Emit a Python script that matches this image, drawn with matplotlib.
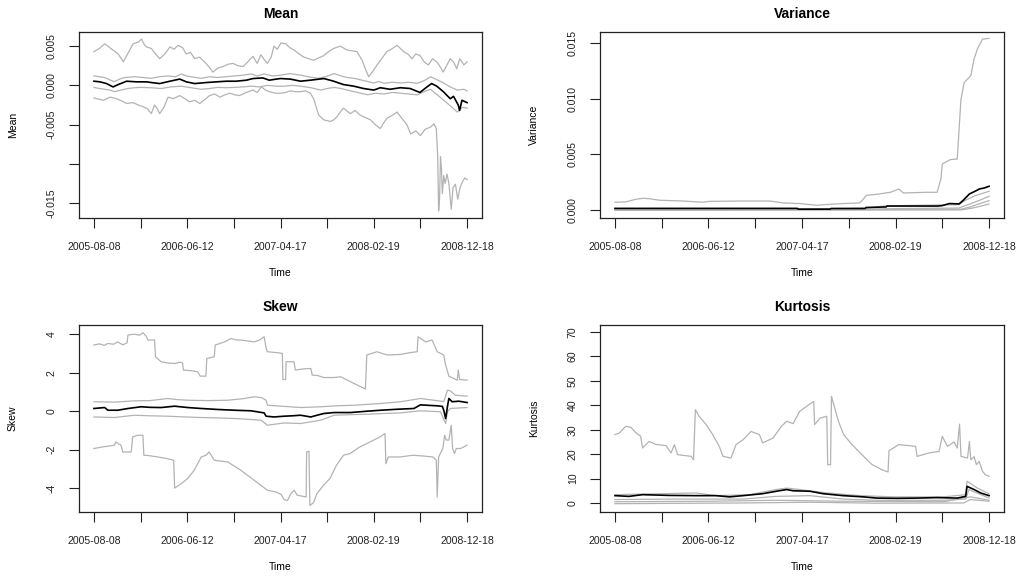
import numpy as np
import matplotlib
matplotlib.use("Agg")
import matplotlib.pyplot as plt

plt.rcParams['font.family'] = ['Liberation Sans', 'DejaVu Sans']

# x axis: trading-day index, labelled with dates every 200 days
tick_idx = [0, 100, 200, 300, 400, 500, 600, 700, 800]
tick_dates = ["2005-08-08", "", "2006-06-12", "", "2007-04-17", "", "2008-02-19", "", "2008-12-18"]

# ---- Mean panel (idx, value) ----
mean_max = [(0, 0.0043), (12, 0.0047), (23, 0.0053), (32, 0.0049), (41, 0.0045), (52, 0.0040), (63, 0.0030),
            (74, 0.0042), (84, 0.0053), (95, 0.0055), (102, 0.0059), (108, 0.0052), (113, 0.0049), (123, 0.0047),
            (132, 0.0040), (141, 0.0034), (152, 0.0040), (163, 0.0049), (172, 0.0046), (180, 0.0051),
            (190, 0.0048), (198, 0.0040), (207, 0.0042), (216, 0.0034), (226, 0.0036), (237, 0.0030),
            (246, 0.0024), (255, 0.0017), (266, 0.0022), (277, 0.0024), (288, 0.0027), (298, 0.0028),
            (309, 0.0025), (320, 0.0024), (330, 0.0030), (341, 0.0037), (350, 0.0028), (358, 0.0039),
            (366, 0.0032), (372, 0.0028), (380, 0.0036), (386, 0.0050), (393, 0.0046), (401, 0.0054),
            (411, 0.0053), (420, 0.0048), (429, 0.0045), (440, 0.0040), (450, 0.0036), (460, 0.0034),
            (471, 0.0032), (482, 0.0035), (493, 0.0038), (503, 0.0043), (514, 0.0047), (528, 0.0050),
            (543, 0.0045), (554, 0.0044), (564, 0.0043), (575, 0.0032), (582, 0.0021), (589, 0.0011),
            (598, 0.0018), (607, 0.0026), (617, 0.0034), (628, 0.0043), (640, 0.0047), (650, 0.0051),
            (664, 0.0043), (673, 0.0040), (682, 0.0034), (690, 0.0040), (699, 0.0038), (708, 0.0030),
            (717, 0.0026), (726, 0.0034), (735, 0.0030), (742, 0.0024), (749, 0.0017), (756, 0.0025),
            (764, 0.0034), (771, 0.0030), (778, 0.0021), (784, 0.0034), (789, 0.0030), (793, 0.0026),
            (800, 0.0030)]
mean_q75 = [(0, 0.0012), (12, 0.0011), (23, 0.0010), (34, 0.0007), (44, 0.00047), (55, 0.0008), (66, 0.0010),
            (87, 0.0011), (105, 0.0010), (123, 0.0009), (140, 0.0011), (158, 0.0012), (175, 0.0011),
            (187, 0.00145), (198, 0.0012), (208, 0.0011), (230, 0.0009), (248, 0.0011), (265, 0.0010),
            (283, 0.0011), (301, 0.0012), (320, 0.0013), (337, 0.00145), (350, 0.0012), (365, 0.00145),
            (383, 0.0012), (401, 0.0013), (420, 0.0015), (443, 0.0013), (460, 0.0011), (479, 0.0009),
            (497, 0.0011), (515, 0.0015), (530, 0.0012), (543, 0.0010), (558, 0.0009), (572, 0.0007),
            (586, 0.0005), (600, 0.0003), (611, 0.0005), (622, 0.00026), (640, 0.0004), (657, 0.0003),
            (675, 0.0004), (693, 0.00026), (708, 0.0006), (722, 0.0011), (736, 0.0007), (750, 0.0003),
            (764, -0.0002), (779, -0.0006), (793, -0.0005), (800, -0.0007)]
mean_mid = [(0, 0.00053), (13, 0.00045), (27, 0.00023), (41, -0.0002), (52, 0.0001), (70, 0.00053),
            (91, 0.00045), (113, 0.00045), (123, 0.00036), (141, 0.00023), (163, 0.00053), (184, 0.0008),
            (198, 0.00045), (216, 0.00023), (241, 0.00036), (263, 0.00045), (284, 0.00053), (305, 0.00053),
            (327, 0.00066), (341, 0.00087), (362, 0.00095), (376, 0.00066), (391, 0.0008), (400, 0.00087),
            (421, 0.0008), (443, 0.00053), (464, 0.00066), (493, 0.00087), (514, 0.00053), (535, 0.0001),
            (557, -0.0001), (578, -0.0004), (600, -0.0006), (614, -0.0003), (635, -0.0005), (657, -0.0003),
            (678, -0.0004), (692, -0.00074), (699, -0.0009), (714, -0.0002), (724, 0.00023), (735, -0.0001),
            (749, -0.0008), (764, -0.0017), (771, -0.0014), (781, -0.0025), (784, -0.0032), (789, -0.0019),
            (800, -0.0022)]
mean_q25 = [(0, -0.00026), (12, -0.0004), (23, -0.0005), (34, -0.0006), (44, -0.0008), (58, -0.0006),
            (73, -0.0004), (87, -0.0003), (101, -0.00026), (122, -0.0003), (144, -0.0004), (165, -0.0002),
            (187, -0.0001), (208, -0.0003), (230, -0.0005), (248, -0.0004), (265, -0.00026), (283, -0.0003),
            (301, -0.00026), (320, -0.0002), (337, -0.0001), (355, -0.0002), (372, 0.0), (390, -0.0001),
            (408, -0.0001), (425, 0.0), (443, -0.0001), (465, -0.0003), (486, -0.0006), (500, -0.0004),
            (515, -0.00026), (530, -0.0004), (543, -0.0006), (565, -0.0009), (586, -0.0012), (604, -0.0010),
            (622, -0.0011), (640, -0.0009), (657, -0.0010), (675, -0.0011), (693, -0.0012), (708, -0.0008),
            (722, -0.0005), (736, -0.0012), (750, -0.0019), (764, -0.0026), (779, -0.0034), (790, -0.0028),
            (800, -0.0029)]
mean_min = [(0, -0.0016), (20, -0.0019), (35, -0.0015), (48, -0.0017), (60, -0.0020), (70, -0.0023),
            (84, -0.0022), (95, -0.0025), (105, -0.0027), (115, -0.0030), (123, -0.0036), (130, -0.0025),
            (136, -0.0030), (141, -0.0036), (150, -0.0028), (159, -0.0015), (170, -0.0017), (184, -0.0013),
            (195, -0.0017), (205, -0.0021), (216, -0.0019), (227, -0.0023), (238, -0.0018), (248, -0.0013),
            (259, -0.0011), (270, -0.0015), (281, -0.0012), (291, -0.0010), (302, -0.0012), (312, -0.0013),
            (327, -0.0009), (341, -0.0006), (350, -0.0009), (359, -0.0002), (368, -0.0006), (376, -0.0008),
            (389, -0.0010), (401, -0.0010), (411, -0.0009), (421, -0.0007), (432, -0.0008), (443, -0.0008),
            (454, -0.0007), (464, -0.0010), (471, -0.0017), (482, -0.0038), (493, -0.0044), (507, -0.0046),
            (514, -0.0044), (521, -0.0040), (528, -0.0034), (535, -0.0029), (543, -0.0033), (550, -0.0036),
            (560, -0.0032), (571, -0.0038), (582, -0.0041), (593, -0.0044), (603, -0.0050), (614, -0.0055),
            (621, -0.0048), (628, -0.0042), (640, -0.0038), (650, -0.0034), (660, -0.0042), (671, -0.0050),
            (679, -0.0062), (690, -0.0058), (700, -0.0064), (710, -0.0056), (722, -0.0053), (729, -0.0049),
            (734, -0.0055), (737, -0.0090), (739, -0.0160), (741, -0.0145), (743, -0.0091), (745, -0.0105),
            (747, -0.0138), (750, -0.0115), (753, -0.0125), (757, -0.0113), (761, -0.0125), (766, -0.0158),
            (770, -0.0130), (775, -0.0126), (780, -0.0145), (785, -0.0130), (790, -0.0123), (795, -0.0118),
            (800, -0.0120)]

# ---- Variance panel ----
var_max = [(0, 0.00072), (23, 0.00075), (44, 0.00098), (59, 0.00107), (73, 0.00104), (95, 0.0009),
           (145, 0.00083), (188, 0.00072), (202, 0.0008), (274, 0.00083), (331, 0.00083), (359, 0.00066),
           (395, 0.0006), (431, 0.00045), (460, 0.00054), (488, 0.0006), (524, 0.00066), (538, 0.00134),
           (560, 0.00143), (589, 0.00161), (607, 0.0019), (617, 0.00155), (667, 0.00161), (689, 0.00161),
           (697, 0.0028), (700, 0.00414), (717, 0.00453), (732, 0.00459), (736, 0.0073), (740, 0.00995),
           (747, 0.01144), (761, 0.01204), (768, 0.01353), (775, 0.01442), (786, 0.01532), (800, 0.01538)]
var_mid = [(0, 0.00017), (390, 0.00017), (392, 0.0001), (460, 0.0001), (462, 0.00016), (535, 0.00016),
           (537, 0.00025), (580, 0.0003), (582, 0.00038), (690, 0.00038), (700, 0.00042), (715, 0.0006),
           (736, 0.00057), (745, 0.0009), (758, 0.00146), (770, 0.0017), (779, 0.0019), (790, 0.002),
           (800, 0.00215)]
var_q75 = [(0, 0.00012), (420, 0.00012), (540, 0.0002), (580, 0.0004), (700, 0.00048), (735, 0.0005),
           (750, 0.0009), (770, 0.0013), (800, 0.0017)]
var_q50 = [(0, 0.00006), (540, 0.0001), (600, 0.00015), (735, 0.0002), (755, 0.0005), (780, 0.0009),
           (800, 0.00125)]
var_q25 = [(0, 0.00003), (600, 0.00008), (740, 0.0001), (760, 0.0003), (780, 0.0006), (800, 0.00086)]
var_min = [(0, 0.0), (740, 0.00003), (765, 0.0002), (785, 0.0004), (800, 0.00057)]

# ---- Skew panel ----
skew_max = [(0, 3.44), (12, 3.5), (22, 3.42), (30, 3.52), (42, 3.48), (51, 3.6), (62, 3.45), (71, 3.55),
            (73, 3.96), (87, 4.0), (98, 3.95), (105, 4.08), (112, 3.9), (116, 3.7), (130, 3.7), (132, 2.83),
            (144, 2.57), (160, 2.5), (173, 2.48), (185, 2.55), (190, 2.5), (192, 2.14), (210, 2.1),
            (222, 2.05), (228, 1.82), (240, 1.82), (242, 2.74), (258, 2.83), (260, 3.44), (280, 3.6),
            (294, 3.78), (305, 3.7), (315, 3.7), (330, 3.65), (344, 3.6), (355, 3.7), (365, 3.87),
            (369, 3.3), (372, 3.09), (394, 3.04), (404, 3.0), (405, 1.65), (411, 1.65), (412, 2.57),
            (429, 2.57), (432, 2.14), (450, 2.2), (465, 2.22), (468, 1.88), (480, 1.85), (493, 1.75),
            (515, 1.75), (529, 1.79), (550, 1.53), (572, 1.27), (582, 1.15), (585, 2.92), (595, 3.0),
            (607, 3.09), (618, 3.0), (629, 2.92), (657, 2.95), (680, 3.05), (693, 3.09), (695, 3.87),
            (711, 3.6), (718, 3.65), (725, 3.7), (736, 3.09), (750, 2.92), (754, 2.4), (761, 1.82),
            (779, 1.61), (781, 2.14), (784, 1.65), (800, 1.61)]
skew_q75 = [(0, 0.49), (44, 0.47), (87, 0.54), (120, 0.55), (158, 0.66), (180, 0.6), (201, 0.57),
            (245, 0.55), (287, 0.57), (320, 0.65), (344, 0.75), (360, 0.7), (369, 0.57), (372, 0.31),
            (408, 0.25), (443, 0.19), (486, 0.23), (520, 0.28), (558, 0.31), (590, 0.36), (615, 0.4),
            (657, 0.49), (700, 0.66), (729, 0.57), (750, 0.5), (758, 1.09), (764, 1.06), (775, 0.83),
            (800, 0.78)]
skew_mid = [(0, 0.14), (23, 0.19), (30, 0.05), (51, 0.05), (73, 0.14), (101, 0.23), (120, 0.2), (144, 0.19),
            (173, 0.26), (201, 0.19), (230, 0.14), (265, 0.09), (301, 0.05), (337, 0.02), (365, -0.09),
            (369, -0.26), (386, -0.3), (408, -0.26), (425, -0.24), (443, -0.21), (465, -0.3), (480, -0.2),
            (493, -0.12), (515, -0.07), (550, -0.07), (586, 0.0), (615, 0.05), (650, 0.1), (686, 0.14),
            (700, 0.33), (720, 0.3), (736, 0.28), (747, 0.25), (750, 0.05), (754, -0.38), (758, 0.25),
            (761, 0.66), (768, 0.49), (782, 0.52), (800, 0.45)]
skew_q25 = [(0, -0.3), (44, -0.33), (87, -0.21), (120, -0.24), (158, -0.26), (195, -0.3), (230, -0.33),
            (265, -0.35), (301, -0.38), (330, -0.42), (358, -0.47), (372, -0.73), (408, -0.61),
            (443, -0.64), (486, -0.47), (515, -0.21), (550, -0.18), (586, -0.16), (620, -0.12),
            (657, -0.09), (700, 0.02), (743, -0.03), (754, -0.64), (758, -0.03), (764, 0.14), (800, 0.19)]
skew_min = [(0, -1.94), (20, -1.85), (30, -1.82), (44, -1.77), (47, -1.6), (58, -1.77), (62, -2.12),
            (80, -2.12), (83, -1.34), (94, -1.25), (105, -1.25), (107, -2.29), (115, -2.3), (137, -2.38),
            (158, -2.47), (171, -2.55), (173, -4.0), (187, -3.77), (201, -3.5), (215, -3.07), (230, -2.38),
            (240, -2.29), (247, -2.12), (258, -2.55), (287, -2.64), (315, -3.07), (344, -3.6),
            (372, -4.11), (390, -4.2), (401, -4.32), (408, -4.6), (415, -4.64), (422, -4.3), (429, -4.11),
            (436, -4.37), (443, -4.4), (455, -4.46), (456, -2.12), (461, -2.08), (463, -4.9),
            (471, -4.75), (478, -4.29), (492, -3.85), (506, -3.5), (520, -2.81), (535, -2.29),
            (549, -2.2), (570, -1.86), (592, -1.6), (613, -1.34), (624, -1.16), (626, -2.73),
            (631, -2.38), (656, -2.38), (684, -2.29), (706, -2.33), (727, -2.38), (734, -2.55),
            (736, -4.46), (739, -2.38), (748, -1.94), (752, -1.25), (755, -1.5), (761, -1.5),
            (766, -0.73), (769, -1.94), (773, -2.2), (777, -1.94), (786, -1.94), (800, -1.77)]

# ---- Kurtosis panel ----
kurt_max = [(0, 28.0), (9, 28.6), (23, 31.4), (34, 31.0), (44, 28.9), (55, 27.3), (59, 22.5), (73, 25.2),
            (87, 24.0), (109, 23.5), (120, 20.5), (127, 23.9), (134, 19.8), (163, 19.1), (168, 17.7),
            (172, 38.2), (180, 35.5), (195, 32.1), (209, 28.0), (223, 23.2), (231, 19.1), (248, 18.4),
            (259, 23.9), (274, 25.9), (291, 29.3), (309, 28.0), (316, 24.6), (338, 26.6), (356, 31.4),
            (367, 33.4), (381, 32.5), (395, 37.5), (414, 40.2), (425, 41.6), (427, 32.1), (439, 34.8),
            (453, 35.5), (455, 15.7), (461, 15.7), (463, 43.7), (478, 33.4), (489, 28.0), (507, 23.9),
            (528, 19.8), (550, 15.7), (571, 13.6), (584, 12.7), (586, 21.4), (607, 23.9), (643, 23.2),
            (646, 19.1), (672, 20.5), (693, 21.1), (700, 27.3), (711, 23.2), (725, 25.0), (732, 22.5),
            (737, 32.3), (740, 19.1), (754, 18.4), (758, 25.2), (761, 17.7), (768, 19.0), (773, 15.7),
            (779, 17.0), (786, 13.0), (792, 11.6), (800, 10.9)]
kurt_q75 = [(0, 3.4), (102, 3.8), (173, 4.1), (216, 3.0), (288, 3.4), (345, 5.5), (367, 6.1), (395, 5.5),
            (453, 4.1), (524, 3.0), (596, 2.5), (703, 2.5), (750, 3.4), (753, 8.9), (775, 6.1), (800, 3.8)]
kurt_mid = [(0, 3.0), (30, 2.7), (59, 3.4), (116, 3.1), (173, 3.0), (216, 3.0), (245, 2.5), (274, 3.0),
            (316, 3.8), (345, 4.8), (367, 5.5), (381, 5.0), (417, 4.8), (445, 3.8), (488, 3.0),
            (531, 2.5), (560, 2.0), (603, 1.9), (646, 2.0), (689, 2.2), (732, 2.0), (750, 2.7),
            (753, 6.8), (768, 5.5), (782, 4.1), (800, 3.0)]
kurt_q50 = [(0, 1.4), (130, 1.6), (274, 1.6), (345, 2.7), (417, 3.0), (488, 1.6), (560, 1.1), (703, 1.1),
            (750, 1.6), (757, 5.5), (800, 2.0)]
kurt_q25 = [(0, 0.5), (202, 0.7), (345, 1.1), (488, 0.7), (703, 0.5), (760, 2.5), (800, 1.1)]
kurt_min = [(0, -0.3), (274, 0.0), (417, 0.3), (560, -0.1), (746, 0.0), (760, 1.4), (800, 0.7)]

GREY = '#b3b3b3'

panels = [
    ("Mean", [79, 218, 403, 186], [mean_max, mean_q75, mean_q25, mean_min], mean_mid,
     (-0.0169, 0.0068), [-0.015, -0.010, -0.005, 0.0, 0.005], ['-0.015', '', '-0.005', '0.000', '0.005']),
    ("Variance", [600, 218, 404, 186], [var_max, var_q75, var_q50, var_q25, var_min], var_mid,
     (-0.00069, 0.01595), [0.0, 0.005, 0.010, 0.015], ['0.000', '0.005', '0.010', '0.015']),
    ("Skew", [79, 512, 403, 187], [skew_max, skew_q75, skew_q25, skew_min], skew_mid,
     (-5.24, 4.48), [-4, -2, 0, 2, 4], ['-4', '-2', '0', '2', '4']),
    ("Kurtosis", [600, 512, 404, 187], [kurt_max, kurt_q75, kurt_q50, kurt_q25, kurt_min], kurt_mid,
     (-3.7, 72.9), [0, 10, 20, 30, 40, 50, 60, 70], ['0', '10', '20', '30', '40', '50', '60', '70']),
]

W, H = 1019, 577
fig = plt.figure(figsize=(W / 100, H / 100), dpi=100)

for name, (l, b, w, h), greys, mid, ylim, yt, ytl in panels:
    ax = fig.add_axes([l / W, 1 - b / H, w / W, h / H])
    for s in greys:
        a = np.array(s)
        ax.plot(a[:, 0], a[:, 1], color=GREY, lw=0.9)
    a = np.array(mid)
    ax.plot(a[:, 0], a[:, 1], color='black', lw=1.2)

    ax.set_xlim(-32, 832)
    ax.set_ylim(*ylim)
    ax.set_xticks(tick_idx)
    ax.set_xticklabels(tick_dates)
    ax.set_yticks(yt)
    ax.set_yticklabels(ytl, rotation=90, va='center')
    ax.tick_params(axis='both', direction='out', length=7, width=0.8, labelsize=7.6, colors='#222222')
    ax.tick_params(axis='x', pad=10)
    ax.tick_params(axis='y', pad=9)
    for sp in ax.spines.values():
        sp.set_linewidth(0.9)
        sp.set_color('#222222')

    ax.set_xlabel("Time", fontsize=7.5)
    ax.xaxis.set_label_coords(0.5, -55 / h)
    ax.xaxis.label.set_va('center')
    ax.set_ylabel(name, fontsize=7.5)
    ax.yaxis.set_label_coords(-66 / w, 0.5)
    ax.yaxis.label.set_va('center')
    ax.text(0.5, 1 + 18 / h, name, transform=ax.transAxes, ha='center', va='center',
            fontsize=10, fontweight='bold')

fig.savefig("out.png", dpi=100)
